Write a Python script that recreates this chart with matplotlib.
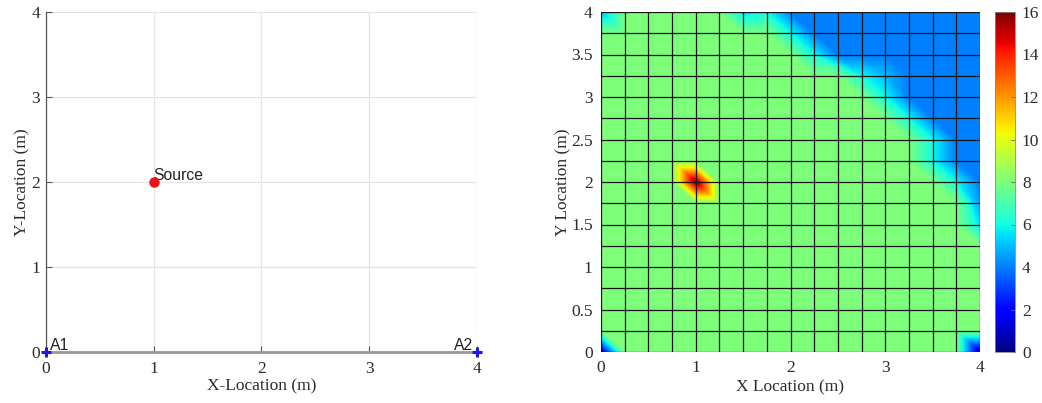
import numpy as np
import matplotlib
matplotlib.use('Agg')
import matplotlib.pyplot as plt
import matplotlib.tri as mtri

plt.rcParams['font.family'] = 'Liberation Serif'
plt.rcParams['font.size'] = 12.5

# room layout: source and two anchors (m)
source_xy = (1.0, 2.0)
anchors_x = [0.0, 4.0]
anchors_y = [0.0, 0.0]
anchor_names = ['A1', 'A2']

# mesh nodes, 0.25 m spacing
grid_x = [0, 0.25, 0.5, 0.75, 1, 1.25, 1.5, 1.75, 2, 2.25, 2.5, 2.75, 3, 3.25, 3.5, 3.75, 4]
grid_y = [0, 0.25, 0.5, 0.75, 1, 1.25, 1.5, 1.75, 2, 2.25, 2.5, 2.75, 3, 3.25, 3.5, 3.75, 4]

# node values, rows listed from y = 4 down to y = 0
node_rows = [
    [5, 8, 8, 8, 8, 8, 5.5, 6, 4, 4, 4, 4, 4, 4, 4, 4, 4],
    [8, 8, 8, 8, 8, 8, 8, 8, 6, 4, 4, 4, 4, 4, 4, 4, 4],
    [8, 8, 8, 8, 8, 8, 8, 8, 8, 6, 4, 4, 4, 4, 4, 4, 4],
    [8, 8, 8, 8, 8, 8, 8, 8, 8, 8, 8, 6, 5, 4, 4, 4, 4],
    [8, 8, 8, 8, 8, 8, 8, 8, 8, 8, 8, 8, 6, 4, 4, 4, 4],
    [8, 8, 8, 8, 8, 8, 8, 8, 8, 8, 8, 8, 8, 6, 4, 4, 4],
    [8, 8, 8, 8, 8, 8, 8, 8, 8, 8, 8, 8, 8, 8, 6, 4, 4],
    [8, 8, 8, 8, 8, 8, 8, 8, 8, 8, 8, 8, 8, 8, 6, 4, 4],
    [8, 8, 8, 8, 16, 8, 8, 8, 8, 8, 8, 8, 8, 8, 8, 6, 4],
    [8, 8, 8, 8, 8, 8, 8, 8, 8, 8, 8, 8, 8, 8, 8, 8, 4.5],
    [8, 8, 8, 8, 8, 8, 8, 8, 8, 8, 8, 8, 8, 8, 8, 8, 5.5],
    [8, 8, 8, 8, 8, 8, 8, 8, 8, 8, 8, 8, 8, 8, 8, 8, 8],
    [8, 8, 8, 8, 8, 8, 8, 8, 8, 8, 8, 8, 8, 8, 8, 8, 8],
    [8, 8, 8, 8, 8, 8, 8, 8, 8, 8, 8, 8, 8, 8, 8, 8, 8],
    [8, 8, 8, 8, 8, 8, 8, 8, 8, 8, 8, 8, 8, 8, 8, 8, 8],
    [8, 8, 8, 8, 8, 8, 8, 8, 8, 8, 8, 8, 8, 8, 8, 8, 8],
    [1.3, 8, 8, 8, 8, 8, 8, 8, 8, 8, 8, 8, 8, 8, 8, 8, 1],
]
cbar_ticks = [0, 2, 4, 6, 8, 10, 12, 14, 16]

W, H = 1042, 403
fig = plt.figure(figsize=(W / 100, H / 100), dpi=100)
txt = '#2b2b2b'

# ---------------- left: layout ----------------
ax1 = fig.add_axes([45.7 / W, 1 - 351.7 / H, 431.3 / W, 340 / H])
ax1.set_xlim(0, 4)
ax1.set_ylim(0, 4)
ax1.set_xticks([0, 1, 2, 3, 4])
ax1.set_yticks([0, 1, 2, 3, 4])
ax1.grid(True, color='#e4e4e4', lw=0.9)
ax1.set_axisbelow(True)
for s in ['top', 'right']:
    ax1.spines[s].set_visible(False)
ax1.spines['left'].set_color('#555555')
ax1.spines['left'].set_linewidth(0.9)
ax1.spines['bottom'].set_color('#9a9a9a')
ax1.spines['bottom'].set_linewidth(2.0)
ax1.tick_params(direction='in', length=4, width=0.8, colors='#555555',
                labelcolor=txt, pad=4)
ax1.tick_params(axis='x', pad=7)
ax1.set_xlabel('X-Location (m)', color=txt, labelpad=1)
ax1.set_ylabel('Y-Location (m)', color=txt, labelpad=1)

ax1.plot(*source_xy, 'o', color='#e8141c', ms=6.5, clip_on=False, zorder=5)
ax1.annotate('Source', source_xy, xytext=(0, 1.5), textcoords='offset points',
             family='Liberation Sans', fontsize=11.3, color='#222222',
             ha='left', va='baseline')
ax1.plot(anchors_x, anchors_y, '+', color='#1a1ae6', ms=7, mew=2.2,
         clip_on=False, zorder=6)
for x, y, name in zip(anchors_x, anchors_y, anchor_names):
    dx = 3 if x < 2 else -3
    ax1.annotate(name, (x, y), xytext=(dx, 1), textcoords='offset points',
                 family='Liberation Sans', fontsize=11.3, color='#222222',
                 ha='left' if x < 2 else 'right', va='baseline')

# ---------------- right: interpolated map ----------------
ax2 = fig.add_axes([601 / W, 1 - 352 / H, 379 / W, 340 / H])
gx, gy = np.meshgrid(grid_x, grid_y)
gz = np.array(node_rows[::-1], dtype=float)
nx = len(grid_x)

# split each cell along its top-left / bottom-right diagonal
tris = []
for j in range(len(grid_y) - 1):
    for i in range(nx - 1):
        a = j * nx + i
        b = a + 1
        d = a + nx
        c = d + 1
        tris.append([a, b, d])
        tris.append([b, c, d])
tri = mtri.Triangulation(gx.ravel(), gy.ravel(), np.array(tris))
interp = mtri.LinearTriInterpolator(tri, gz.ravel())
fx, fy = np.meshgrid(np.linspace(0, 4, 761), np.linspace(0, 4, 761))
fz = interp(fx, fy)

im = ax2.imshow(fz, extent=(0, 4, 0, 4), origin='lower', cmap='jet',
                vmin=0, vmax=16, interpolation='bilinear', aspect='auto')
ax2.plot(gx, gy, color='#141414', lw=0.9)
ax2.plot(gx.T, gy.T, color='#141414', lw=0.9)
ax2.set_xlim(0, 4)
ax2.set_ylim(0, 4)
ax2.set_xticks([0, 1, 2, 3, 4])
ax2.set_yticks([0, 0.5, 1, 1.5, 2, 2.5, 3, 3.5, 4])
ax2.set_yticklabels(['0', '0.5', '1', '1.5', '2', '2.5', '3', '3.5', '4'])
for s in ax2.spines.values():
    s.set_visible(False)
ax2.tick_params(length=0, labelcolor=txt, pad=6)
ax2.set_xlabel('X Location (m)', color=txt, labelpad=2)
ax2.set_ylabel('Y Location (m)', color=txt, labelpad=0)

cax = fig.add_axes([995 / W, 1 - 352 / H, 20 / W, 340 / H])
cb = fig.colorbar(im, cax=cax, ticks=cbar_ticks)
cb.outline.set_edgecolor('#888888')
cb.outline.set_linewidth(0.6)
cax.tick_params(direction='in', length=3, width=0.6, colors='#666666',
                labelcolor=txt, pad=5)

fig.savefig('out.png', dpi=100)
